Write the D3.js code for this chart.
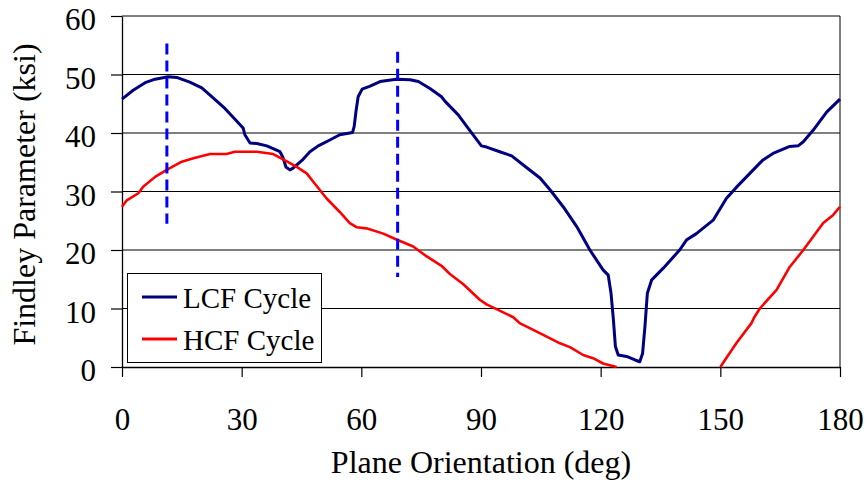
<!DOCTYPE html>
<html>
<head>
<meta charset="utf-8">
<script src="https://cdn.jsdelivr.net/npm/d3@7/dist/d3.min.js"></script>
<style>
  html, body { margin: 0; padding: 0; background: #fff; }
  svg { display: block; font-family: "Liberation Serif", "Times New Roman", serif; }
</style>
</head>
<body>
<svg id="chart" width="868" height="483"></svg>
<script>
// Findley parameter versus plane orientation for the two load cycles
const lcfAngle = [0, 2.8, 5.8, 8.3, 11.6, 13.7, 17, 20, 22, 25.8, 29.2, 30.4, 30.8, 32.1, 33.8, 36.3,
  39.6, 40.3, 41.1, 42.1, 42.9, 45.4, 47.1, 49.2, 52.1, 54.6, 57.8, 58.2, 58.7, 59.2, 60.2, 62.2,
  64.7, 68.8, 72.2, 74.3, 77.2, 80.1, 81, 84.3, 86.8, 90.1, 91.4, 94.7, 97.7, 101.4, 104.8, 107.3,
  110.6, 114, 117.3, 120.6, 121.9, 122.6, 123.2, 123.7, 124.4, 126.5, 128.6, 129.8, 130.5, 131.1,
  131.7, 132.8, 135.7, 139.8, 141.5, 144, 148.2, 151.5, 154, 157.4, 160.7, 163.2, 167.4, 169.5,
  170.8, 173.3, 176.7, 180];
const lcfValue = [45.8, 47.3, 48.6, 49.2, 49.6, 49.5, 48.7, 47.7, 46.5, 44.2, 41.7, 40.8, 39.7, 38.3, 38.2, 37.8,
  36.8, 35.9, 34.2, 33.7, 34.0, 35.5, 36.8, 37.8, 38.8, 39.7, 40.1, 41.1, 43.9, 46.2, 47.5, 48.0,
  48.8, 49.2, 49.1, 48.8, 47.6, 46.2, 45.4, 43.1, 40.8, 37.8, 37.6, 36.8, 36.1, 34.1, 32.3, 30.3,
  27.4, 24.0, 20.0, 16.6, 15.7, 12.6, 8.0, 3.5, 2.05, 1.8, 1.2, 0.9, 2.3, 6.9,
  12.6, 14.9, 16.9, 20.0, 21.7, 22.8, 25.1, 28.8, 30.7, 33.1, 35.4, 36.5, 37.7, 37.8,
  38.5, 40.5, 43.6, 45.8];

// HCF values fall below the axis minimum between ~124 and 150 deg (null = not drawn)
const hcfAngle = [0, 1.2, 4.1, 5.3, 8.3, 11.2, 15, 17.9, 22.1, 26.2, 28.3, 33.8, 37.9, 40.4, 43.8, 46.3,
  47.9, 51.3, 54.6, 57.1, 58.8, 61.3, 65.5, 68.8, 73, 76.4, 80.1, 82.2, 85.5, 89.7, 91.4, 98.1,
  99.7, 105.6, 109.8, 112.3, 115.6, 118.1, 120.6, 124, 137, 150, 154, 157.8, 158.6, 159.9, 164.1,
  167.4, 170.8, 173.3, 175.8, 178.3, 180];
const hcfValue = [27.4, 28.5, 29.7, 30.8, 32.5, 33.7, 35.1, 35.7, 36.4, 36.4, 36.8, 36.8, 36.4, 35.5, 34.2, 33.1,
  31.7, 28.8, 26.5, 24.6, 23.9, 23.7, 22.8, 21.8, 20.6, 18.9, 17.3, 15.9, 14.2, 11.5, 10.7, 8.5,
  7.5, 5.5, 4.05, 3.4, 2.05, 1.5, 0.6, 0, null, 0, 4.05, 7.5, 8.6, 10.0, 13.2,
  17.1, 20.0, 22.3, 24.6, 26.0, 27.4];

// critical plane markers (dashed verticals)
const markerAngle = [11.25, 69.1];
const markerLow = [24.5, 15.4];
const markerHigh = [55.3, 53.9];

const xTicks = [0, 30, 60, 90, 120, 150, 180];
const yTicks = [0, 10, 20, 30, 40, 50, 60];
const seriesNames = ["LCF Cycle", "HCF Cycle"];
const seriesColors = ["#000080", "#ff0000"];

const svg = d3.select("#chart");
const m = { left: 122, right: 840, top: 16, bottom: 367 };

const x = d3.scaleLinear().domain([0, 180]).range([m.left, m.right]);
const y = d3.scaleLinear().domain([0, 60]).range([m.bottom, m.top]);

// horizontal gridlines
svg.append("g")
  .selectAll("line")
  .data(yTicks.slice(1))
  .join("line")
  .attr("x1", m.left).attr("x2", m.right)
  .attr("y1", d => y(d)).attr("y2", d => y(d))
  .attr("stroke", "#000").attr("stroke-width", 1);

// right border of the plot area
svg.append("line")
  .attr("x1", m.right).attr("x2", m.right)
  .attr("y1", m.top).attr("y2", m.bottom)
  .attr("stroke", "#000").attr("stroke-width", 1);

// axes
const xAxis = svg.append("g")
  .attr("transform", `translate(0,${m.bottom})`)
  .call(d3.axisBottom(x).tickValues(xTicks).tickSize(10).tickPadding(31).tickSizeOuter(0));
const yAxis = svg.append("g")
  .attr("transform", `translate(${m.left},0)`)
  .call(d3.axisLeft(y).tickValues(yTicks).tickSize(11).tickPadding(15).tickSizeOuter(0));

[xAxis, yAxis].forEach(g => {
  g.select(".domain").attr("stroke", "#000").attr("stroke-width", 1.3);
  g.selectAll(".tick line").attr("stroke", "#000").attr("stroke-width", 1.2);
  g.selectAll("text")
    .attr("fill", "#000")
    .style("font-family", "'Liberation Serif', 'Times New Roman', serif")
    .style("font-size", "31px");
});
yAxis.selectAll("text").attr("dy", "0.45em");

// data lines
const lcfData = lcfAngle.map((a, i) => [a, lcfValue[i]]);
const hcfData = hcfAngle.map((a, i) => [a, hcfValue[i]]);
const line = d3.line()
  .defined(d => d[1] !== null)
  .x(d => x(d[0]))
  .y(d => y(d[1]))
  .curve(d3.curveLinear);

svg.append("path")
  .datum(lcfData)
  .attr("fill", "none")
  .attr("stroke", seriesColors[0])
  .attr("stroke-width", 3)
  .attr("stroke-linejoin", "round")
  .attr("d", line);

svg.append("path")
  .datum(hcfData)
  .attr("fill", "none")
  .attr("stroke", seriesColors[1])
  .attr("stroke-width", 2.6)
  .attr("stroke-linejoin", "round")
  .attr("d", line);

// dashed critical-plane markers
svg.append("g")
  .selectAll("line")
  .data(markerAngle)
  .join("line")
  .attr("x1", d => x(d)).attr("x2", d => x(d))
  .attr("y1", (d, i) => y(markerHigh[i]))
  .attr("y2", (d, i) => y(markerLow[i]))
  .attr("stroke", "#0000ff")
  .attr("stroke-width", 3)
  .attr("stroke-dasharray", "11,6");

// axis titles
svg.append("text")
  .attr("x", (m.left + m.right) / 2)
  .attr("y", 473)
  .attr("text-anchor", "middle")
  .style("font-size", "32px")
  .text("Plane Orientation (deg)");

svg.append("text")
  .attr("transform", `translate(35,${(m.top + m.bottom) / 2 + 3}) rotate(-90)`)
  .attr("text-anchor", "middle")
  .style("font-size", "32px")
  .text("Findley Parameter (ksi)");

// legend
const legend = svg.append("g");
legend.append("rect")
  .attr("x", 127.5).attr("y", 273.5)
  .attr("width", 194).attr("height", 89)
  .attr("fill", "#fff")
  .attr("stroke", "#000").attr("stroke-width", 1);

const rows = legend.selectAll("g.row")
  .data(seriesNames)
  .join("g")
  .attr("class", "row")
  .attr("transform", (d, i) => `translate(0,${i === 0 ? 297 : 339})`);
rows.append("line")
  .attr("x1", 142).attr("x2", 177)
  .attr("stroke", (d, i) => seriesColors[i])
  .attr("stroke-width", 3);
rows.append("text")
  .attr("x", 183)
  .attr("y", 11)
  .style("font-size", "29px")
  .text(d => d);
</script>
</body>
</html>
